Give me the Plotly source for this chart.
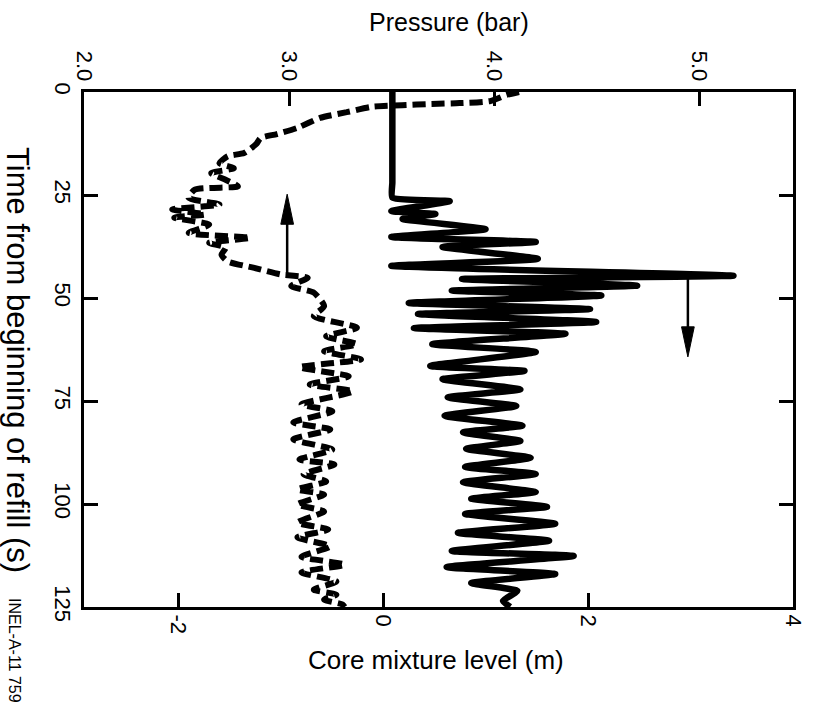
import plotly.graph_objects as go

# ---- Data (time in s) ----
# Core mixture level (m) - solid curve, bottom axis
level_time = [0, 8, 16, 22, 25.6, 26.5, 28.9, 29.6, 30.8, 33.3, 35.2, 36.4, 37.6,
              40.5, 42.2, 44.6, 45.4, 47.0, 48.2, 49.4, 51.2, 52.7, 53.9,
              55.8, 57.3, 58.7, 61.2, 63.1, 66.5, 67.7, 69.7, 72.2, 74.1,
              76.2, 78.6, 81.0, 82.6, 84.7, 86.6, 88.8, 91.0, 92.7, 94.7,
              97.1, 98.7, 100.7, 102.4, 104.8, 107.0, 108.9, 111.4, 112.6, 115.3,
              117.0, 119.2, 121.1, 123.5, 125]
level_m = [0.09, 0.09, 0.09, 0.09, 0.09, 0.65, 0.08, 0.51, 0.19, 1.0, 0.08, 1.49, 0.58,
           1.51, 0.08, 3.42, 0.77, 2.48, 0.67, 2.13, 0.25, 2.02, 0.34,
           2.08, 0.30, 1.78, 0.48, 1.49, 0.46, 1.38, 0.58, 1.34, 0.63,
           1.30, 0.60, 1.36, 0.78, 1.34, 0.81, 1.44, 0.80, 1.49, 0.78,
           1.49, 0.86, 1.60, 0.80, 1.68, 0.73, 1.62, 0.67, 1.86, 0.62,
           1.68, 0.86, 1.31, 1.17, 1.24]

# Pressure (bar) - dashed curve, top axis
pressure_time = [0, 0.7, 2.2, 2.7, 2.9, 3.2, 3.6, 4.9, 6.3, 8.7,
                 10.2, 11.2, 12.6, 14.8, 15.6, 17.3, 18.5, 19.7, 21.3, 22.9,
                 23.7, 25.7, 27.3, 28.5, 29.7, 30.5, 32.2, 34.2, 35.4, 36.6,
                 37.8, 39.5, 41.1, 42.7, 44.3, 45.1, 47.1, 48.7, 52.0, 54.4,
                 57.2, 59.3, 61.2, 62.9, 64.9, 66.8, 69.0, 71.0, 72.7, 75.8,
                 77.5, 80.2, 81.9, 84.3, 86.8, 89.2, 90.4, 92.8, 94.5, 96.5,
                 97.7, 100.1, 101.8, 104.5, 106.2, 108.1, 110.3, 112.8, 114.7, 116.6,
                 118.8, 120.8, 122.0, 123.2, 124.4, 125]
pressure_bar = [4.12, 4.06, 3.98, 3.83, 3.69, 3.55, 3.40, 3.28, 3.15, 3.04,
                2.94, 2.86, 2.84, 2.78, 2.70, 2.66, 2.73, 2.62, 2.69, 2.75,
                2.54, 2.51, 2.66, 2.43, 2.59, 2.44, 2.61, 2.51, 2.81, 2.61,
                2.69, 2.67, 2.70, 2.83, 2.96, 3.09, 3.01, 3.12, 3.17, 3.12,
                3.33, 3.18, 3.33, 3.17, 3.35, 3.05, 3.29, 3.10, 3.31, 3.06,
                3.21, 3.02, 3.20, 3.02, 3.21, 3.05, 3.22, 3.07, 3.18, 3.04,
                3.17, 3.04, 3.17, 3.04, 3.19, 3.04, 3.20, 3.06, 3.27, 3.06,
                3.23, 3.12, 3.23, 3.17, 3.26, 3.27]

time_ticks = [0, 25, 50, 75, 100, 125]
pressure_ticks = [2.0, 3.0, 4.0, 5.0]
pressure_ticktext = ["2.0", "3.0", "4.0", "5.0"]
level_ticks = [-2, 0, 2, 4]
level_ticktext = ["-2", "0", "2", "4"]

FONT = "Liberation Sans, Arial, Helvetica, sans-serif"

fig = go.Figure()
fig.add_trace(go.Scatter(
    x=level_m, y=level_time, mode="lines", xaxis="x", yaxis="y",
    line=dict(color="black", width=6.5, shape="spline", smoothing=0.45),
    showlegend=False, hoverinfo="skip"))
fig.add_trace(go.Scatter(
    x=pressure_bar, y=pressure_time, mode="lines", xaxis="x2", yaxis="y",
    line=dict(color="black", width=6, dash="13px,6px", shape="spline", smoothing=0.6),
    showlegend=False, hoverinfo="skip"))

axis_common = dict(
    showgrid=False, zeroline=False, showline=True, linecolor="black", linewidth=3,
    ticks="inside", ticklen=14, tickwidth=2.5, tickcolor="black", tickangle=90,
    tickfont=dict(family=FONT, size=22, color="black"),
)

fig.update_layout(
    width=818, height=703,
    margin=dict(l=84, r=13, t=92, b=96),
    paper_bgcolor="white", plot_bgcolor="white",
    font=dict(family=FONT, color="black"),
    xaxis=dict(range=[-2.92, 4.001], tickmode="array", tickvals=level_ticks,
               ticktext=level_ticktext, side="bottom", **axis_common),
    xaxis2=dict(range=[2.0, 5.455], tickmode="array", tickvals=pressure_ticks,
                ticktext=pressure_ticktext, side="top", overlaying="x", **axis_common),
    yaxis=dict(range=[125, 0], tickmode="array", tickvals=time_ticks,
               mirror="ticks", **axis_common),
)

# Axis titles (pixel offsets from plot-area edges: plot spans x 84..805, y 92..607)
fig.add_annotation(text="Pressure (bar)", xref="paper", yref="paper", x=0, y=1,
                   xshift=449 - 84, yshift=92 - 22, xanchor="center", yanchor="middle",
                   showarrow=False, font=dict(family=FONT, size=25))
fig.add_annotation(text="Core mixture level (m)", xref="paper", yref="paper", x=0, y=0,
                   xshift=436 - 84, yshift=-(660 - 607), xanchor="center", yanchor="middle",
                   showarrow=False, font=dict(family=FONT, size=26))
fig.add_annotation(text="Time from beginning of refill (s)", xref="paper", yref="paper",
                   x=0, y=0, xshift=18 - 84, yshift=607 - 360, xanchor="center", yanchor="middle",
                   textangle=90, showarrow=False, font=dict(family=FONT, size=31))
fig.add_annotation(text="INEL-A-11 759", xref="paper", yref="paper",
                   x=0, y=0, xshift=15 - 84, yshift=-(650 - 607), xanchor="center", yanchor="middle",
                   textangle=90, showarrow=False, font=dict(family=FONT, size=16))

# Arrows (shaft + narrow filled head)
up_x, up_from, up_to = 2.99, 44.3, 24.8
dn_x, dn_from, dn_to = 2.975, 44.9, 64.3
fig.add_shape(type="line", xref="x2", yref="y", x0=up_x, x1=up_x, y0=up_from, y1=up_to + 6,
              line=dict(color="black", width=2.5))
fig.add_shape(type="path", xref="x2", yref="y",
              path=f"M {up_x-0.031} {up_to+7.3} L {up_x+0.031} {up_to+7.3} L {up_x} {up_to} Z",
              fillcolor="black", line=dict(color="black", width=1))
fig.add_shape(type="line", xref="x", yref="y", x0=dn_x, x1=dn_x, y0=dn_from, y1=dn_to - 6,
              line=dict(color="black", width=2.5))
fig.add_shape(type="path", xref="x", yref="y",
              path=f"M {dn_x-0.062} {dn_to-7.3} L {dn_x+0.062} {dn_to-7.3} L {dn_x} {dn_to} Z",
              fillcolor="black", line=dict(color="black", width=1))

fig.write_html("out.html")
